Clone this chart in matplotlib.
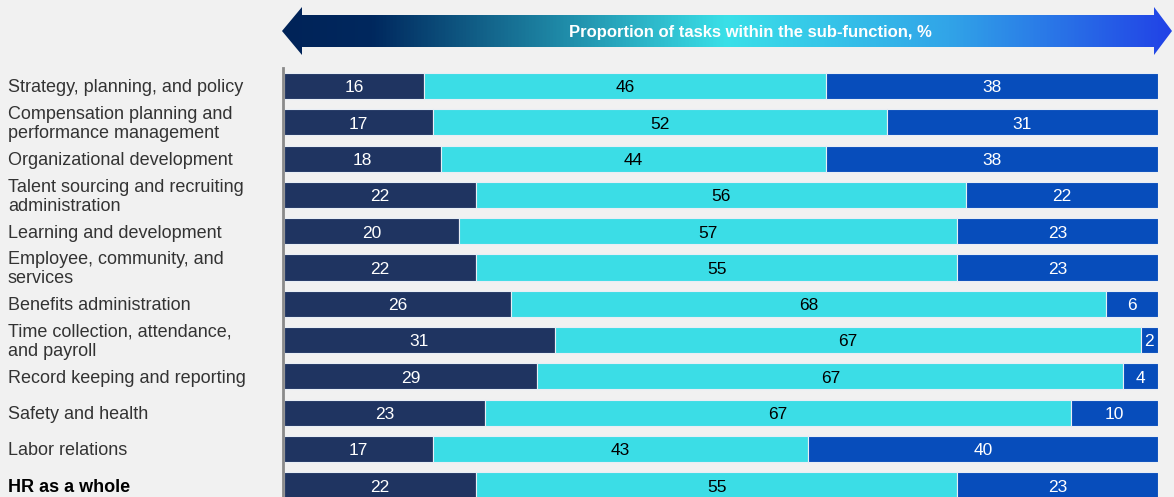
import numpy as np
import matplotlib.pyplot as plt
from matplotlib.patches import Polygon
from matplotlib.colors import LinearSegmentedColormap

plt.rcParams['font.family'] = ['Liberation Sans', 'DejaVu Sans']

categories = ["Strategy, planning, and policy",
              "Compensation planning and\nperformance management",
              "Organizational development",
              "Talent sourcing and recruiting\nadministration",
              "Learning and development",
              "Employee, community, and\nservices",
              "Benefits administration",
              "Time collection, attendance,\nand payroll",
              "Record keeping and reporting",
              "Safety and health",
              "Labor relations",
              "HR as a whole"]
seg1 = [16, 17, 18, 22, 20, 22, 26, 31, 29, 23, 17, 22]
seg2 = [46, 52, 44, 56, 57, 55, 68, 67, 67, 67, 43, 55]
seg3 = [38, 31, 38, 22, 23, 23, 6, 2, 4, 10, 40, 23]

c_dark, c_cyan, c_blue = '#1f3461', '#3bdde6', '#074dbb'
bg = '#f1f1f1'

W, H = 1174, 497
fig = plt.figure(figsize=(W/100, H/100), dpi=100, facecolor=bg)

# bars axes (pixel placement)
x0, x1 = 284, 1158
ytop, ybot = 68, 497
ax = fig.add_axes([x0/W, 1-ybot/H, (x1-x0)/W, (ybot-ytop)/H])
ax.set_facecolor(bg)
step = 36.3
ax.set_xlim(0, 100)
ax.set_ylim((ybot-86)/step, (ytop-86)/step)
y = np.arange(len(categories))
h = 0.72
dy = 0.05  # nudge text down a little
left = np.zeros(len(y))
for vals, col, tc in [(seg1, c_dark, 'white'), (seg2, c_cyan, 'black'), (seg3, c_blue, 'white')]:
    vals = np.array(vals)
    ax.barh(y, vals, left=left, height=h, color=col, edgecolor='#e8eef5', linewidth=0.8)
    for yi, l, v in zip(y, left, vals):
        ax.text(l + v/2, yi + dy, str(v), ha='center', va='center', color=tc, fontsize=12.5)
    left = left + vals
for s in ax.spines.values():
    s.set_visible(False)
ax.set_xticks([])
ax.set_yticks([])
ax.axvline(-0.1, color='#8a8a8a', lw=2, clip_on=False)

for yi, cat in zip(y, categories):
    bold = cat == "HR as a whole"
    ax.text((8 - x0) / (x1 - x0) * 100, yi + dy, cat, ha='left', va='center', fontsize=13,
            color='black' if bold else '#333333',
            fontweight='bold' if bold else 'normal', linespacing=1.15)

# gradient arrow on top
ov = fig.add_axes([0, 0, 1, 1])
ov.set_xlim(0, W)
ov.set_ylim(H, 0)
ov.axis('off')
ov.patch.set_alpha(0)
pts = [(282, 31), (302, 7), (302, 15), (1154, 15), (1154, 7), (1172, 31),
       (1154, 55), (1154, 47), (302, 47), (302, 55)]
poly = Polygon(pts, closed=True, facecolor='none', edgecolor='none')
ov.add_patch(poly)
cmap = LinearSegmentedColormap.from_list('arr', [(0, '#002358'), (0.1, '#00285e'), (0.5, '#3ae0e8'),
                                                 (0.75, '#31a4e8'), (1, '#2142e6')])
grad = np.linspace(0, 1, 512).reshape(1, -1)
im = ov.imshow(grad, cmap=cmap, extent=(282, 1172, 55, 7), aspect='auto')
im.set_clip_path(poly)
ov.text(750, 32, "Proportion of tasks within the sub-function, %", ha='center', va='center',
        color='white', fontsize=12, fontweight='bold')
ov.set_xlim(0, W)
ov.set_ylim(H, 0)

fig.savefig('out.png', dpi=100, facecolor=bg)
